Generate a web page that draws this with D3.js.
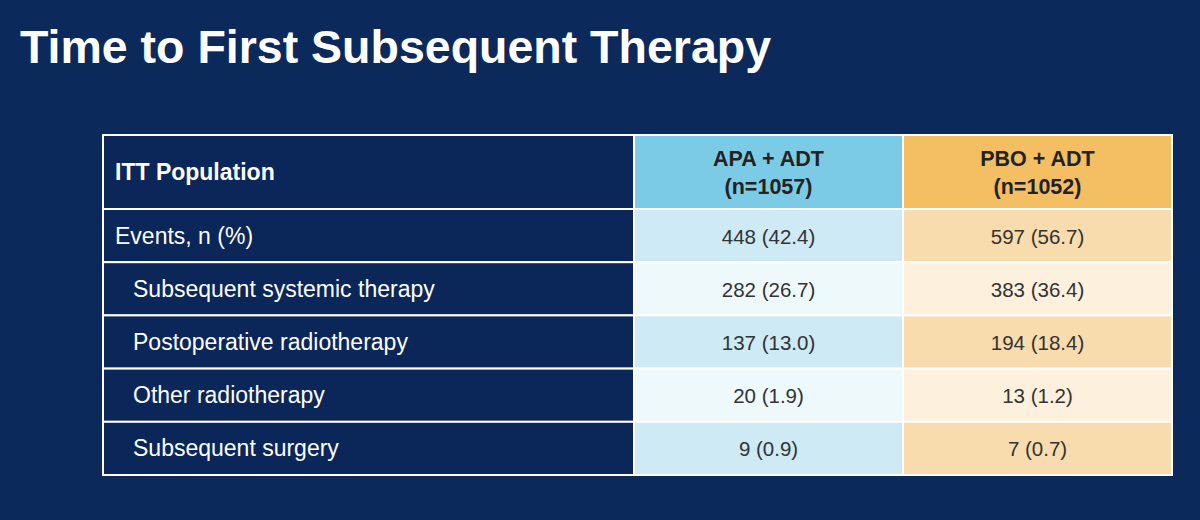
<!DOCTYPE html>
<html><head><meta charset="utf-8">
<script src="https://cdn.jsdelivr.net/npm/d3@7"></script>
<style>body{margin:0;background:#0c295c;}</style>
</head><body><div id="wrapper"></div>
<script>
// data
const title = "Time to First Subsequent Therapy";
const headers = ["ITT Population", "APA + ADT\n(n=1057)", "PBO + ADT\n(n=1052)"];
const rowLabels = ["Events, n (%)", "Subsequent systemic therapy", "Postoperative radiotherapy", "Other radiotherapy", "Subsequent surgery"];
const indented = [false, true, true, true, true];
const apaValues = ["448 (42.4)", "282 (26.7)", "137 (13.0)", "20 (1.9)", "9 (0.9)"];
const pboValues = ["597 (56.7)", "383 (36.4)", "194 (18.4)", "13 (1.2)", "7 (0.7)"];

const width = 1200, height = 520;
const svg = d3.select("#wrapper").append("svg").attr("width", width).attr("height", height);
svg.append("rect").attr("width", width).attr("height", height).attr("fill", "#0c295c");

svg.append("text").text(title).attr("x", 20).attr("y", 63)
  .attr("fill", "#fff").style("font-family", "Liberation Sans, Arial, sans-serif")
  .style("font-weight", "bold").style("font-size", "46.5px");

const colEdges = [103, 634, 903, 1172];
const headTop = 135, headBottom = 209, tableBottom = 475;
const yScale = d3.scaleBand().domain(d3.range(rowLabels.length)).range([headBottom, tableBottom]);

const headFill = ["#0b2659", "#7ccbe6", "#f4bf62"];
const rowFill = [
  i => "#0b2659",
  i => i % 2 === 0 ? "#cdeaf5" : "#eef9fc",
  i => i % 2 === 0 ? "#f8dcae" : "#fdf0dc"
];
const font = "Liberation Sans, Arial, sans-serif";
const g = svg.append("g");

// header
headers.forEach((h, c) => {
  const x0 = colEdges[c], x1 = colEdges[c + 1];
  g.append("rect").attr("x", x0).attr("y", headTop).attr("width", x1 - x0).attr("height", headBottom - headTop)
    .attr("fill", headFill[c]).attr("stroke", "#fff").attr("stroke-width", 2);
  const lines = h.split("\n");
  const t = g.append("text").attr("fill", c === 0 ? "#fff" : "#222")
    .style("font-family", font).style("font-weight", "bold")
    .style("font-size", c === 0 ? "23px" : "21.5px")
    .attr("text-anchor", c === 0 ? "start" : "middle");
  lines.forEach((l, k) => {
    t.append("tspan").text(l)
      .attr("x", c === 0 ? x0 + 12 : (x0 + x1) / 2)
      .attr("y", (headTop + headBottom) / 2 + 8 + (k - (lines.length - 1) / 2) * 28);
  });
});

// body
const cols = [rowLabels, apaValues, pboValues];
rowLabels.forEach((r, i) => {
  const y0 = yScale(i), bh = yScale.bandwidth();
  cols.forEach((col, c) => {
    const x0 = colEdges[c], x1 = colEdges[c + 1];
    g.append("rect").attr("x", x0).attr("y", y0).attr("width", x1 - x0).attr("height", bh)
      .attr("fill", rowFill[c](i)).attr("stroke", "#fff").attr("stroke-width", 2);
    g.append("text").text(col[i])
      .attr("x", c === 0 ? x0 + (indented[i] ? 30 : 12) : (x0 + x1) / 2)
      .attr("y", y0 + bh / 2 + 8)
      .attr("text-anchor", c === 0 ? "start" : "middle")
      .attr("fill", c === 0 ? "#fff" : "#333")
      .style("font-family", font).style("font-size", c === 0 ? "23px" : "20.5px");
  });
});
</script></body></html>
